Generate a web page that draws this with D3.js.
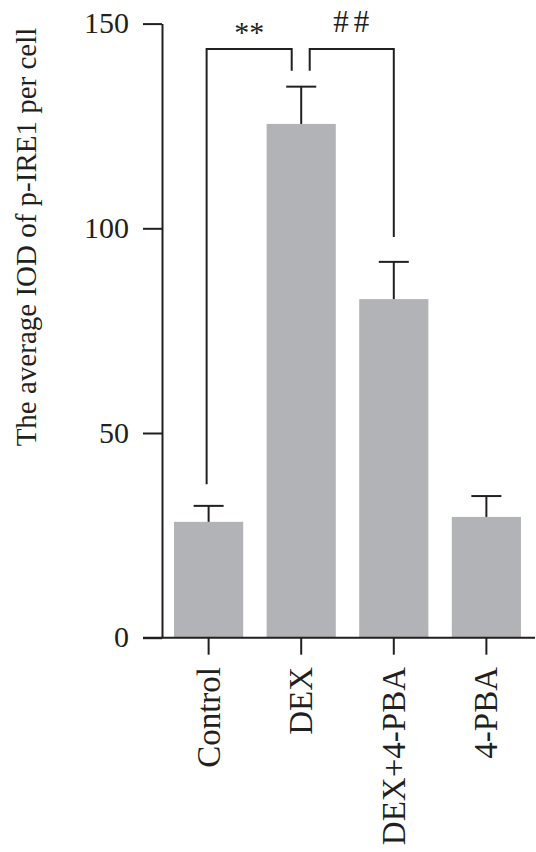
<!DOCTYPE html>
<html>
<head>
<meta charset="utf-8">
<script src="https://cdn.jsdelivr.net/npm/d3@7"></script>
<style>
  html, body { margin: 0; padding: 0; background: #fff; }
  svg text { font-family: "Liberation Serif", "DejaVu Serif", serif; fill: #231f20; }
</style>
</head>
<body>
<div id="chart"></div>
<script>
// ------------------------------
// DATA
// ------------------------------
const categories = ["Control", "DEX", "DEX+4-PBA", "4-PBA"];
const means = [28.3, 125.5, 82.7, 29.5];
const errors = [3.9, 9.1, 9.1, 5.1];
const yTicks = [0, 50, 100, 150];

// significance brackets: from / to category, leg bottoms, top height
const brackets = [
  { label: "**", from: "Control", to: "DEX", fromBottom: 37.5, toBottom: 138.5, top: 143.8, fromShift: -2, toShift: -9.5 },
  { label: "##", from: "DEX", to: "DEX+4-PBA", fromBottom: 138.5, toBottom: 97.9, top: 143.8, fromShift: 8.5, toShift: 0 }
];

const width = 536;
const height = 852;
const ink = "#231f20";
const barColor = "#b2b3b6";

const svg = d3.select("#chart")
  .append("svg")
  .attr("width", width)
  .attr("height", height);

// scales
const x = d3.scaleBand()
  .domain(categories)
  .range([162, 533])
  .paddingInner(0.253)
  .paddingOuter(0.13);

const y = d3.scaleLinear()
  .domain([0, 150])
  .range([637.7, 23.6]);

const tickLen = 19;

// bars
svg.append("g")
  .selectAll("rect")
  .data(categories)
  .enter()
  .append("rect")
  .attr("x", d => x(d))
  .attr("y", (d, i) => y(means[i]))
  .attr("width", x.bandwidth())
  .attr("height", (d, i) => y(0) - y(means[i]))
  .attr("fill", barColor);

// error bars (upper only)
const eb = svg.append("g")
  .attr("stroke", ink)
  .attr("stroke-width", 2);

categories.forEach((c, i) => {
  const cx = x(c) + x.bandwidth() / 2;
  eb.append("line")
    .attr("x1", cx).attr("x2", cx)
    .attr("y1", y(means[i])).attr("y2", y(means[i] + errors[i]));
  eb.append("line")
    .attr("x1", cx - 15).attr("x2", cx + 15)
    .attr("y1", y(means[i] + errors[i])).attr("y2", y(means[i] + errors[i]));
});

// y axis
const yAxis = svg.append("g")
  .attr("transform", "translate(162,0)")
  .call(d3.axisLeft(y).tickValues(yTicks).tickSize(tickLen).tickSizeOuter(0).tickPadding(14));

yAxis.select(".domain").attr("stroke", ink).attr("stroke-width", 2);
yAxis.selectAll(".tick line").attr("stroke", ink).attr("stroke-width", 2);
yAxis.selectAll(".tick text")
  .attr("font-size", 30)
  .attr("dy", "0.3em")
  .attr("fill", ink);

// x axis
const xAxis = svg.append("g")
  .attr("transform", `translate(0,${y(0)})`)
  .call(d3.axisBottom(x).tickSize(17).tickSizeOuter(0).tickFormat(""));

xAxis.select(".domain").remove();
xAxis.selectAll(".tick line").attr("stroke", ink).attr("stroke-width", 2);
xAxis.append("line")
  .attr("x1", 162 - tickLen).attr("x2", 535)
  .attr("y1", 0).attr("y2", 0)
  .attr("stroke", ink)
  .attr("stroke-width", 2);

// rotated category labels
svg.append("g")
  .selectAll("text")
  .data(categories)
  .enter()
  .append("text")
  .attr("transform", d => `translate(${x(d) + x.bandwidth() / 2 + 11},667) rotate(-90)`)
  .attr("text-anchor", "end")
  .attr("font-size", 33)
  .text(d => d);

// y axis title
svg.append("text")
  .attr("transform", "translate(36,237) rotate(-90)")
  .attr("text-anchor", "middle")
  .attr("font-size", 29)
  .text("The average IOD of p-IRE1 per cell");

// significance brackets
const bg = svg.append("g");
brackets.forEach(b => {
  const x1 = x(b.from) + x.bandwidth() / 2 + b.fromShift;
  const x2 = x(b.to) + x.bandwidth() / 2 + b.toShift;
  bg.append("path")
    .attr("d", `M${x1},${y(b.fromBottom)}V${y(b.top)}H${x2}V${y(b.toBottom)}`)
    .attr("fill", "none")
    .attr("stroke", ink)
    .attr("stroke-width", 2);
  const isStar = b.label === "**";
  bg.append("text")
    .attr("x", (x1 + x2) / 2 + (isStar ? 0 : 2))
    .attr("y", isStar ? 42 : 32)
    .attr("text-anchor", "middle")
    .attr("font-size", isStar ? 30 : 31)
    .attr("letter-spacing", isStar ? 0 : 5)
    .text(b.label);
});
</script>
</body>
</html>
